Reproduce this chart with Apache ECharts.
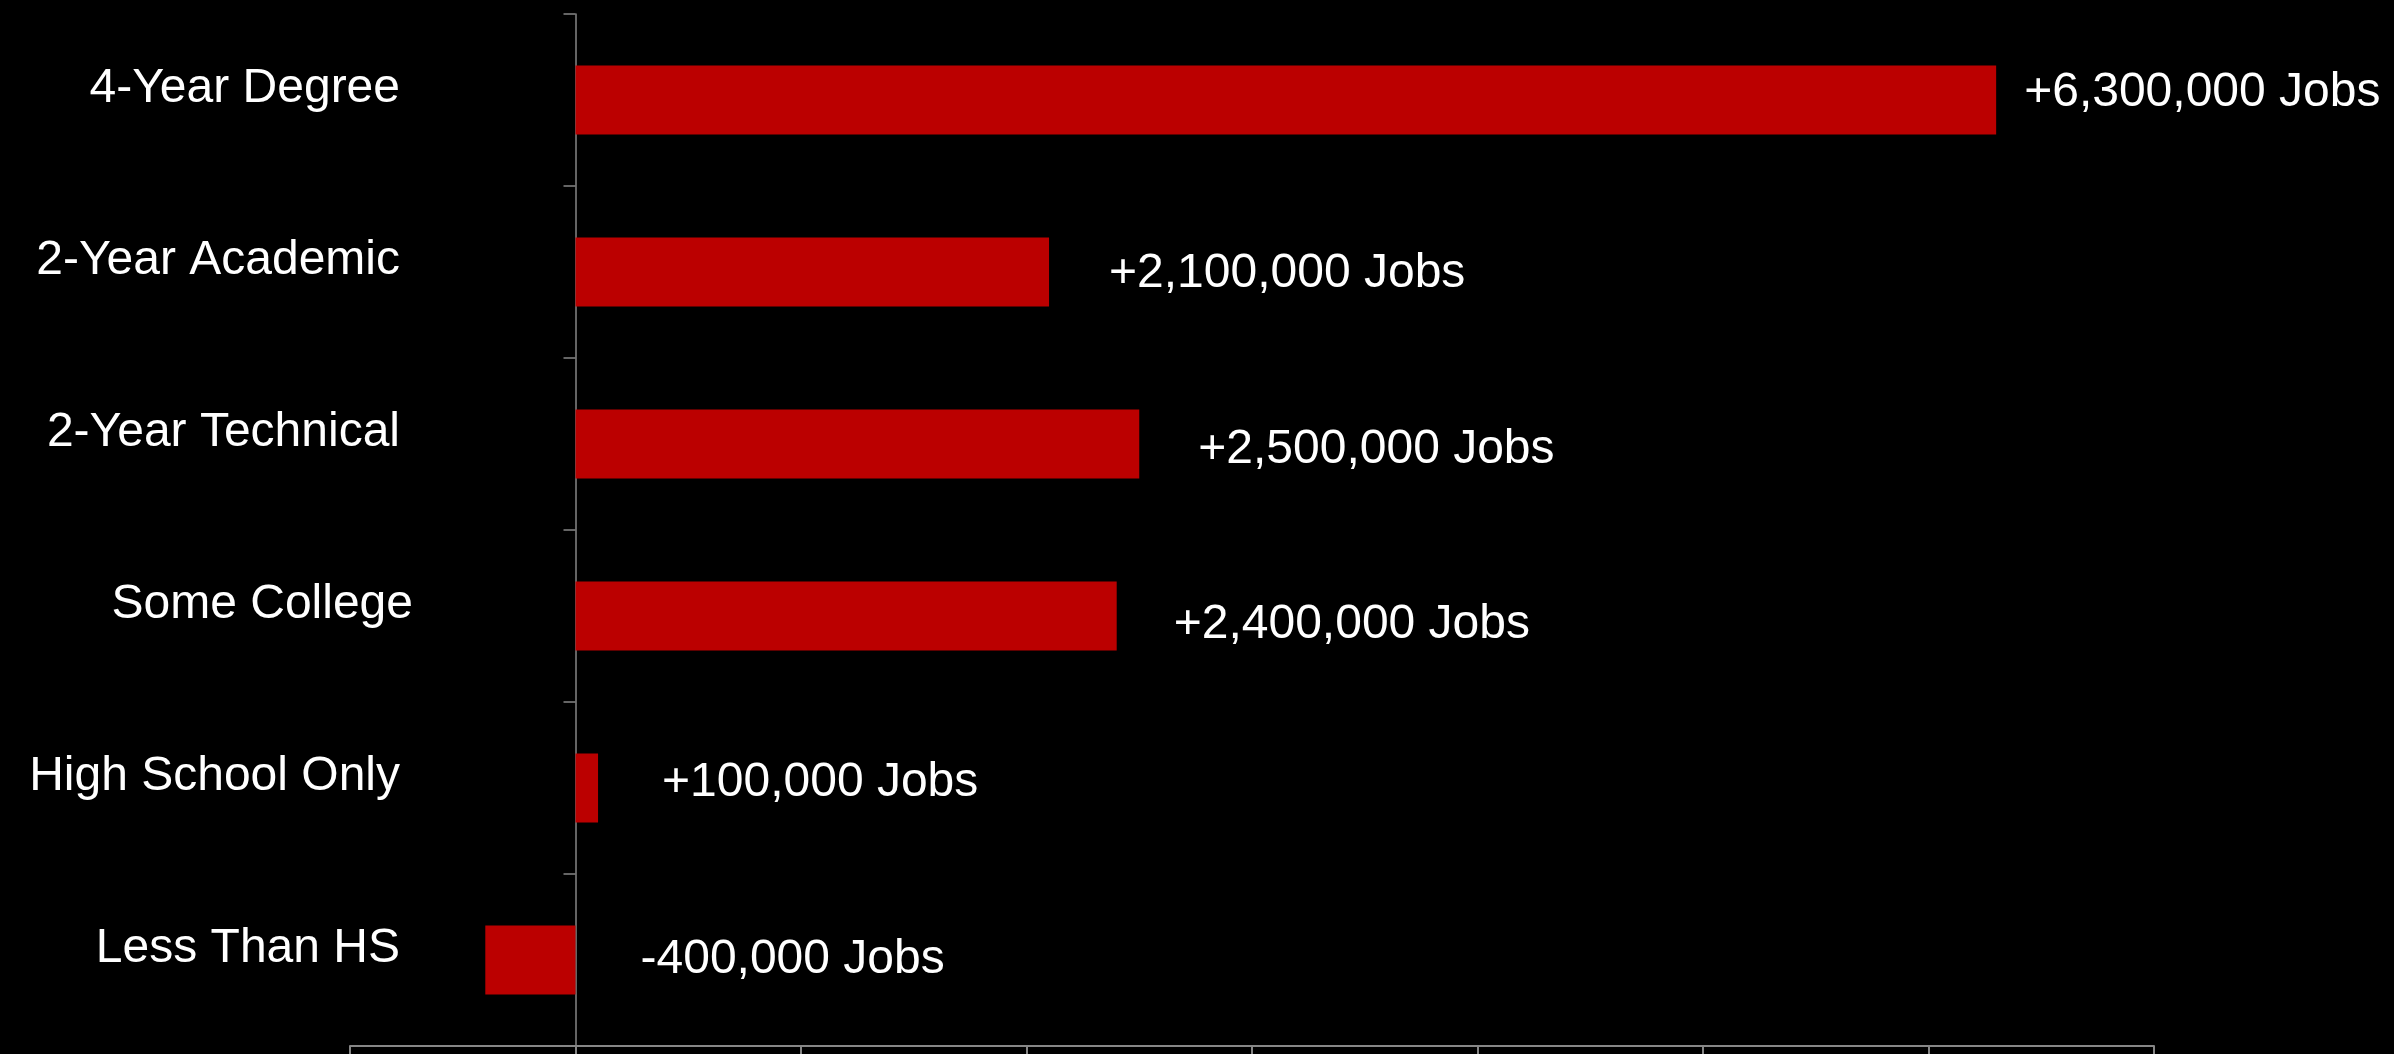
<!DOCTYPE html>
<html>
<head>
<meta charset="utf-8">
<style>
  html, body { margin: 0; padding: 0; background: #000; }
  #chart { width: 2394px; height: 1054px; }
</style>
<script src="https://cdn.jsdelivr.net/npm/echarts@6/dist/echarts.min.js"></script>
</head>
<body>
<div id="chart"></div>
<script>
// Projected job change by education level (top to bottom)
const categories = ['4-Year Degree', '2-Year Academic', '2-Year Technical', 'Some College', 'High School Only', 'Less Than HS'];
const jobChange = [6300000, 2100000, 2500000, 2400000, 100000, -400000];

// Value-axis range (no tick labels shown)
const axisMin = -1000000;
const axisMax = 7000000;
const axisStep = 1000000;

// Per-bar label placement: gap after bar end, vertical nudge
const labelGap = [28, 60, 59, 57, 64, 65];
const labelLift = [-7, 2, 6, 9, -5, 0];

function jobsText(v) {
  const sign = v >= 0 ? '+' : '-';
  const s = Math.abs(v).toString().replace(/\B(?=(\d{3})+(?!\d))/g, ',');
  return sign + s + ' Jobs';
}

const FONT = '"Liberation Sans", Arial, sans-serif';

const seriesData = jobChange.map((v, i) => ({
  value: v,
  label: {
    show: true,
    position: 'right',
    distance: labelGap[i],
    offset: [0, labelLift[i]],
    formatter: () => jobsText(v)
  }
}));

const chart = echarts.init(document.getElementById('chart'), null, { renderer: 'canvas' });
chart.setOption({
  backgroundColor: '#000000',
  animation: false,
  grid: { left: 350, right: 240, top: 14, bottom: 8, containLabel: false, outerBoundsMode: 'none' },
  xAxis: {
    type: 'value',
    min: axisMin,
    max: axisMax,
    interval: axisStep,
    axisLine: { show: true, lineStyle: { color: '#868686', width: 2 } },
    axisTick: { show: true, length: 10, lineStyle: { color: '#868686', width: 2 } },
    axisLabel: { show: false },
    splitLine: { show: false }
  },
  yAxis: {
    type: 'category',
    inverse: true,
    data: categories,
    axisLine: { show: true, onZero: true, lineStyle: { color: '#868686', width: 1.5 } },
    axisTick: { show: true, length: 12, lineStyle: { color: '#868686', width: 1.5 } },
    axisLabel: {
      color: '#ffffff',
      fontFamily: FONT,
      fontSize: 48,
      margin: -63,
      formatter: (name) => (name === 'Some College' ? '{wide|' : '{std|') + name + '}',
      rich: {
        std: { color: '#ffffff', fontFamily: FONT, fontSize: 48, padding: [0, 13, 22, 0] },
        wide: { color: '#ffffff', fontFamily: FONT, fontSize: 48, padding: [0, 0, 22, 0] }
      }
    },
    splitLine: { show: false }
  },
  series: [{
    type: 'bar',
    data: seriesData,
    barCategoryGap: '60%',
    itemStyle: { color: '#bb0000' },
    label: {
      color: '#ffffff',
      fontFamily: FONT,
      fontSize: 48
    }
  }]
});
</script>
</body>
</html>
